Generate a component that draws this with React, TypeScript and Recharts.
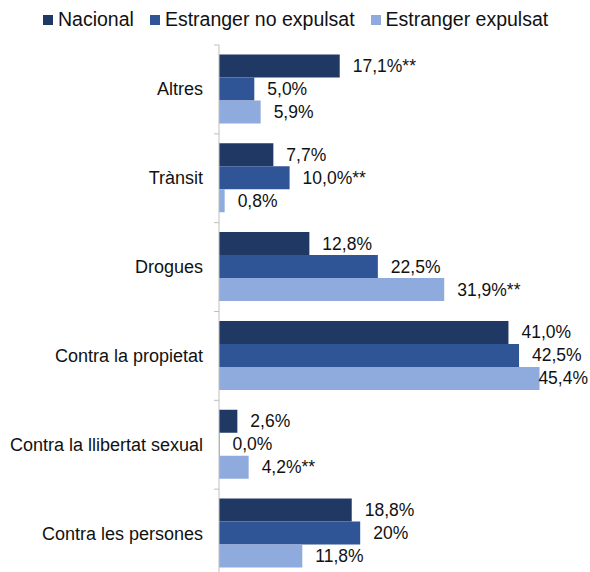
import React from 'react';
import { BarChart, Bar, XAxis, YAxis, LabelList } from 'recharts';

const categories = [
  'Altres',
  'Trànsit',
  'Drogues',
  'Contra la propietat',
  'Contra la llibertat sexual',
  'Contra les persones',
];
const nacional = [17.1, 7.7, 12.8, 41.0, 2.6, 18.8];
const noExpulsat = [5.0, 10.0, 22.5, 42.5, 0.0, 20];
const expulsat = [5.9, 0.8, 31.9, 45.4, 4.2, 11.8];
const nacionalLabels = ['17,1%**', '7,7%', '12,8%', '41,0%', '2,6%', '18,8%'];
const noExpulsatLabels = ['5,0%', '10,0%**', '22,5%', '42,5%', '0,0%', '20%'];
const expulsatLabels = ['5,9%', '0,8%', '31,9%**', '45,4%', '4,2%**', '11,8%'];

const series = [
  { key: 'nacional', label: 'nacionalLbl', name: 'Nacional', color: '#203864' },
  { key: 'noExpulsat', label: 'noExpulsatLbl', name: 'Estranger no expulsat', color: '#2F5597' },
  { key: 'expulsat', label: 'expulsatLbl', name: 'Estranger expulsat', color: '#8FAADC' },
];

const data = categories.map((name, i) => ({
  name,
  nacional: nacional[i],
  noExpulsat: noExpulsat[i],
  expulsat: expulsat[i],
  nacionalLbl: nacionalLabels[i],
  noExpulsatLbl: noExpulsatLabels[i],
  expulsatLbl: expulsatLabels[i],
}));

const FONT = '"Liberation Sans", Arial, sans-serif';
const CHART_W = 590;
const CHART_H = 590;
const MARGIN = { top: 45, right: 18, bottom: 12, left: 0 };
const YAXIS_W = 219;
const BAND = (CHART_H - MARGIN.top - MARGIN.bottom) / categories.length;
const LABEL_SIZE = 17.5;
const LABEL_OFFSET = 13;
const RIGHT_LIMIT = 588;

// rough Arial advance widths (em)
const charW = (c: string) => {
  if (c === ',' ) return 0.278;
  if (c === '%') return 0.889;
  if (c === '*') return 0.389;
  return 0.556;
};
const textWidth = (s: string) => s.split('').reduce((a, c) => a + charW(c), 0) * LABEL_SIZE;

const ValueLabel = (props: any) => {
  const { x, y, width, height, value } = props;
  const str = String(value);
  const w = textWidth(str);
  let tx = x + width + LABEL_OFFSET;
  if (tx + w > RIGHT_LIMIT) tx = RIGHT_LIMIT - w;
  return (
    <text x={tx} y={y + height / 2} dy={6} fontSize={LABEL_SIZE} fill="#111" fontFamily={FONT}>
      {str}
    </text>
  );
};

const CategoryTick = (props: any) => {
  const { y, payload } = props;
  const axisX = MARGIN.left + YAXIS_W;
  return (
    <g>
      <line x1={axisX - 5} x2={axisX} y1={y - BAND / 2} y2={y - BAND / 2} stroke="#bfbfbf" />
      <text x={axisX - 16} y={y} dy={6} textAnchor="end" fontSize={18} fill="#111" fontFamily={FONT}>
        {payload.value}
      </text>
    </g>
  );
};

const Legend = () => (
  <div
    style={{
      position: 'absolute',
      top: 8,
      left: 43,
      display: 'flex',
      alignItems: 'center',
      fontFamily: FONT,
      fontSize: 19.5,
      color: '#111',
      whiteSpace: 'nowrap',
    }}
  >
    {series.map((s) => (
      <div key={s.key} style={{ display: 'flex', alignItems: 'center', marginRight: 16 }}>
        <span style={{ width: 10, height: 10, background: s.color, marginRight: 5, display: 'inline-block' }} />
        <span>{s.name}</span>
      </div>
    ))}
  </div>
);

export default function App() {
  return (
    <div style={{ position: 'absolute', left: 0, top: 0, width: 590, height: 572, overflow: 'hidden', background: '#fff' }}>
      <Legend />
      <BarChart
        width={CHART_W}
        height={CHART_H}
        data={data}
        layout="vertical"
        margin={MARGIN}
        barCategoryGap="10.6%"
        barGap={0}
        style={{ fontFamily: FONT }}
      >
        <XAxis type="number" domain={[0, 50]} hide />
        <YAxis
          type="category"
          dataKey="name"
          width={YAXIS_W}
          axisLine={{ stroke: '#bfbfbf' }}
          tickLine={false}
          tick={<CategoryTick />}
          interval={0}
        />
        {series.map((s) => (
          <Bar
            key={s.key}
            dataKey={s.key}
            name={s.name}
            fill={s.color}
            minPointSize={(v: number) => (v === 0 ? 0.5 : 0)}
            isAnimationActive={false}
          >
            <LabelList dataKey={s.label} content={<ValueLabel />} />
          </Bar>
        ))}
      </BarChart>
    </div>
  );
}
